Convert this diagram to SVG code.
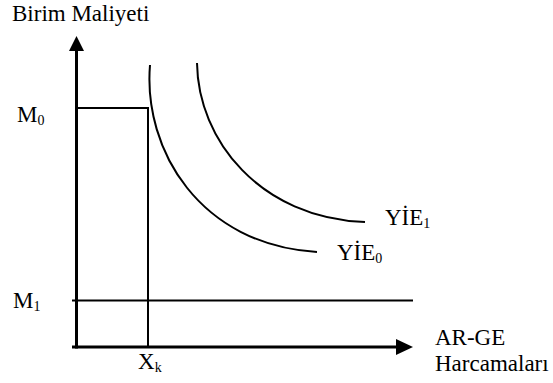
<svg xmlns="http://www.w3.org/2000/svg" width="553" height="383" viewBox="0 0 553 383">
<style>
text{font-family:"Liberation Serif","Times New Roman",serif;font-size:23px;fill:#000}
.sub{font-size:14px}
.ax{stroke:#000;stroke-width:3;fill:none}
.ln{stroke:#000;stroke-width:2;fill:none}
.ah{fill:#000;stroke:none}
</style>
<rect width="553" height="383" fill="#fff"/>
<g id="connectors">
  <line class="ax" x1="76.5" y1="348.5" x2="76.5" y2="48"/>
  <polygon class="ah" points="76.5,36 69,51 84,51"/>
  <line class="ax" x1="72" y1="347" x2="398" y2="347"/>
  <polygon class="ah" points="413,347 396,339 396,355"/>
  <line class="ln" x1="76" y1="108" x2="149" y2="108"/>
  <line class="ln" x1="148" y1="108" x2="148" y2="347"/>
  <line class="ln" x1="72" y1="300.5" x2="413" y2="300.5"/>
  <path id="yie0-curve" class="ln" d="M150,65 C143,150 200,245 317,252"/>
  <path id="yie1-curve" class="ln" d="M197,63 C198,140 260,218 365,222"/>
</g>
<g id="label-y"><text x="12" y="21">Birim Maliyeti</text></g>
<g id="label-m0"><text x="17" y="122">M<tspan class="sub" dy="3">0</tspan></text></g>
<g id="label-m1"><text x="13" y="308">M<tspan class="sub" dy="3">1</tspan></text></g>
<g id="label-xk"><text x="138" y="369">X<tspan class="sub" dy="3">k</tspan></text></g>
<g id="label-x"><text x="435" y="345">AR-GE</text><text x="435" y="371">Harcamaları</text></g>
<g id="label-yie1"><text x="385" y="225">YİE<tspan class="sub" dy="3">1</tspan></text></g>
<g id="label-yie0"><text x="337" y="260">YİE<tspan class="sub" dy="3">0</tspan></text></g>
</svg>
